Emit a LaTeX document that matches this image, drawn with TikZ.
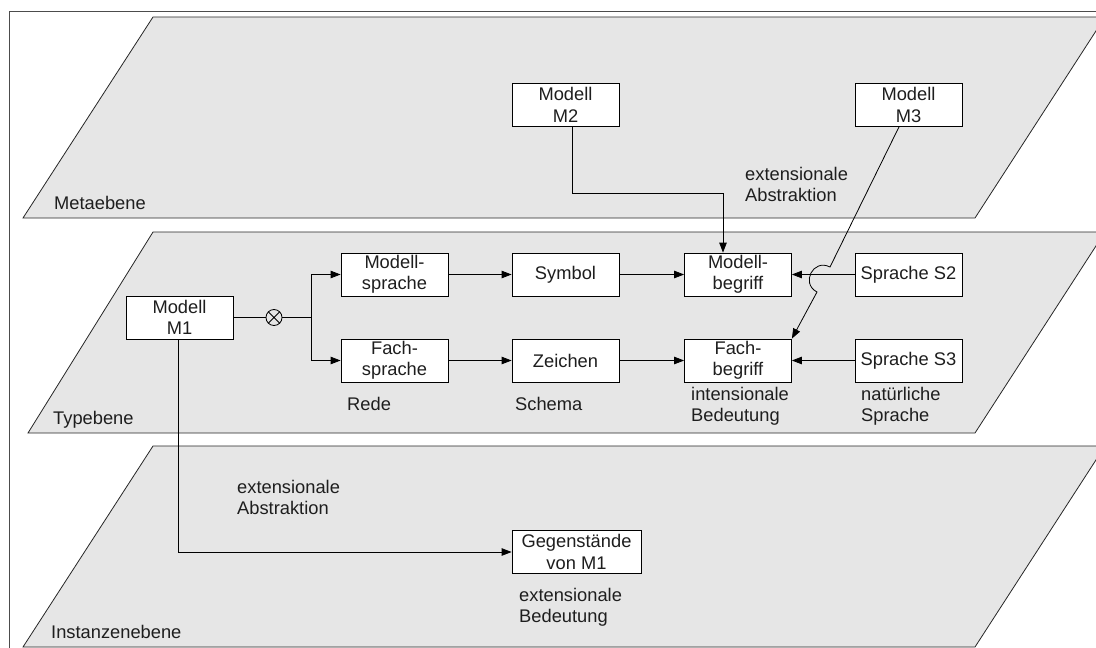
\documentclass[tikz,border=0pt]{standalone}
\usepackage{fontspec}
\setmainfont{Liberation Sans}
\usetikzlibrary{arrows.meta,calc}
\definecolor{planegray}{RGB}{230,230,230}
\definecolor{inkgray}{RGB}{30,30,30}
\begin{document}
\begin{tikzpicture}[x=1pt,y=-1pt,
  font=\fontsize{18.3}{21.5}\selectfont,
  plane/.style={fill=planegray, draw=black!85, line width=0.8pt, line join=miter},
  box/.style={draw=black, fill=white, line width=0.8pt, minimum width=107pt,
    minimum height=43pt, inner sep=0pt, align=center, text=inkgray},
  lbl/.style={anchor=north west, inner sep=0pt, align=left, text=inkgray},
  planelbl/.style={anchor=base west, inner sep=0pt, text=inkgray},
  conn/.style={line width=0.8pt, black},
  arr/.style={conn, -{Triangle[length=10pt,width=7.5pt]}},
]
\useasboundingbox (0,0) rectangle (1096,648);
\clip (0,0) rectangle (1096,648);

% outer frame
\draw[black!70, line width=1pt] (9,660) -- (9,11) -- (1110,11);

% the three levels
\draw[plane] (153,17)  -- (1105,17)  -- (975,218) -- (23,218) -- cycle;
\draw[plane] (153,232) -- (1105,232) -- (975,433) -- (28,433) -- cycle;
\draw[plane] (153,446) -- (1105,446) -- (975,647) -- (23,647) -- cycle;

\node[planelbl] (lmeta) at (54,209) {Metaebene};
\node[planelbl] (ltype) at (53,424) {Typebene};
\node[planelbl] (linst) at (51,638) {Instanzenebene};

% boxes
\node[box] (m2)   at (565.5,105)   {Modell\\M2};
\node[box] (m3)   at (908.5,105)   {Modell\\M3};
\node[box] (m1)   at (179.5,317.5) {Modell\\M1};
\node[box] (msp)  at (394.5,274.5) {Modell-\\sprache};
\node[box] (fsp)  at (394.5,360.5) {Fach-\\sprache};
\node[box] (sym)  at (565.5,274.5) {Symbol};
\node[box] (zei)  at (565.5,360.5) {Zeichen};
\node[box] (mbeg) at (738,274.5)   {Modell-\\begriff};
\node[box] (fbeg) at (738,360.5)   {Fach-\\begriff};
\node[box] (s2)   at (908.5,274.5) {Sprache S2};
\node[box] (s3)   at (908.5,360.5) {Sprache S3};
\node[box, minimum width=129pt] (geg) at (576.5,552) {Gegenstände\\von M1};

% exclusive-or connector
\node[circle, draw=black, line width=0.8pt, minimum size=16pt, inner sep=0pt] (xor) at (274,317.5) {};
\draw[conn] (xor.north west) -- (xor.south east) (xor.north east) -- (xor.south west);
\coordinate (split) at (311,317.5);

% connectors
\draw[conn] (m1.east) -- (xor.west);
\draw[conn] (xor.east) -- (split);
\draw[arr] (split) |- (msp.west);
\draw[arr] (split) |- (fsp.west);
\draw[arr] (msp) -- (sym);
\draw[arr] (sym) -- (mbeg);
\draw[arr] (s2) -- (mbeg);
\draw[arr] (fsp) -- (zei);
\draw[arr] (zei) -- (fbeg);
\draw[arr] (s3) -- (fbeg);
\draw[arr] ([xshift=6.5pt]m2.south) -- ++(0,66) -| ([xshift=-15pt]mbeg.north);
\coordinate (hopa) at (830,267);
\coordinate (hopb) at (817,292);
\draw[arr] ([xshift=-9.5pt]m3.south) -- (hopa)
  .. controls (813.3,258.3) and (800.3,283.3) .. (hopb) -- (fbeg.north east);
\draw[arr] ([xshift=-1.5pt]m1.south) |- (geg.west);

% annotations
\node[lbl] (eabs1) at (745,167) {extensionale\\Abstraktion};
\node[lbl] (eabs2) at (237,480) {extensionale\\Abstraktion};
\node[lbl] (rede)  at (347,397) {Rede};
\node[lbl] (schema) at (515,397) {Schema};
\node[lbl] (ibed)  at (691,387) {intensionale\\Bedeutung};
\node[lbl] (nsp)   at (861,387) {natürliche\\Sprache};
\node[lbl] (ebed)  at (519,588) {extensionale\\Bedeutung};
\end{tikzpicture}
\end{document}
